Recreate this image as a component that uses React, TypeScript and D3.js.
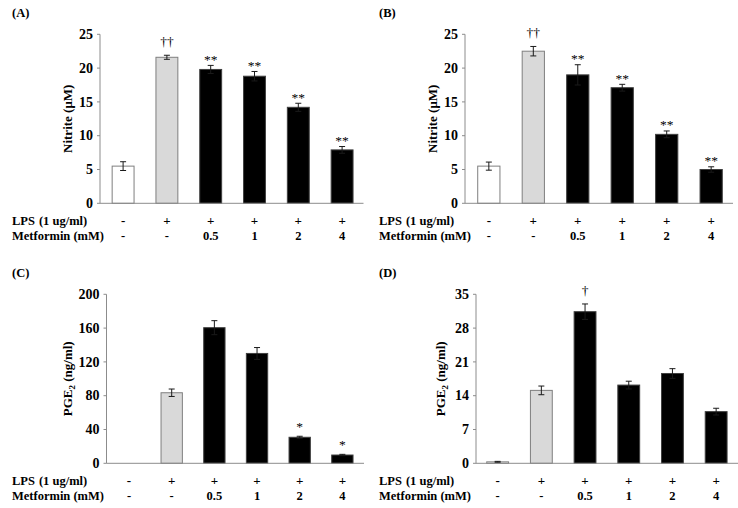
import React from "react";
import * as d3 from "d3";

// ---- data ----
const lpsRow = ["-", "+", "+", "+", "+", "+"];
const metforminRow = ["-", "-", "0.5", "1", "2", "4"];

const nitriteA = [5.5, 21.6, 19.8, 18.8, 14.2, 7.9];
const nitriteAErr = [0.65, 0.3, 0.6, 0.7, 0.6, 0.5];
const nitriteASig = ["", "††", "**", "**", "**", "**"];

const nitriteB = [5.5, 22.5, 19.0, 17.1, 10.2, 5.0];
const nitriteBErr = [0.6, 0.7, 1.5, 0.5, 0.5, 0.4];
const nitriteBSig = ["", "††", "**", "**", "**", "**"];

const pge2C = [0, 83.5, 160.5, 130, 30.8, 9.8];
const pge2CErr = [0, 4.4, 8.3, 7, 1.2, 0.8];
const pge2CSig = ["", "", "", "", "*", "*"];

const pge2D = [0.3, 15.1, 31.4, 16.2, 18.6, 10.7];
const pge2DErr = [0.1, 0.9, 1.6, 0.8, 1.0, 0.7];
const pge2DSig = ["", "", "†", "", "", ""];

const ticksNitrite = [0, 5, 10, 15, 20, 25];
const ticksC = [0, 40, 80, 120, 160, 200];
const ticksD = [0, 7, 14, 21, 28, 35];

const groups = ["g1", "g2", "g3", "g4", "g5", "g6"];
const fills = ["#ffffff", "#d9d9d9", "#000000", "#000000", "#000000", "#000000"];

const FONT = "'Liberation Serif', 'Times New Roman', serif";
const AXIS = "#8c8c8c";

type PanelProps = {
  label: string;
  values: number[];
  errs: number[];
  sig: string[];
  ticks: number[];
  yLabel: React.ReactNode;
  panelX: number;
  axisX: number;
  bandStart: number;
  bandEnd: number;
  axisEnd: number;
  y0: number;
  yTop: number;
  yLabelX: number;
};

function Panel(p: PanelProps) {
  const max = p.ticks[p.ticks.length - 1];
  const y = d3.scaleLinear().domain([0, max]).range([p.y0, p.yTop]);
  const x = d3
    .scaleBand<string>()
    .domain(groups)
    .range([p.bandStart, p.bandEnd])
    .paddingInner(0.5)
    .paddingOuter(0.25);
  const bw = x.bandwidth();
  const cap = 3;
  return (
    <g fontFamily={FONT} fontWeight="bold" fill="#000">
      <text x={p.panelX} y={p.yTop - 17} fontSize={12.5}>
        {p.label}
      </text>
      <text
        transform={`translate(${p.yLabelX},${(p.y0 + p.yTop) / 2}) rotate(-90)`}
        textAnchor="middle"
        fontSize={13}
      >
        {p.yLabel}
      </text>
      {p.values.map((v, i) => {
        const gx = x(groups[i])!;
        const h = p.y0 - y(v);
        if (v <= 0) return null;
        return (
          <rect
            key={"b" + i}
            x={gx}
            y={y(v)}
            width={bw}
            height={h}
            fill={fills[i]}
            stroke={i < 2 ? "#7f7f7f" : "#404040"}
            strokeWidth={1}
          />
        );
      })}
      {p.values.map((v, i) => {
        const e = p.errs[i];
        if (!e) return null;
        const cx = x(groups[i])! + bw / 2;
        const hi = y(v + e);
        const lo = y(Math.max(0, v - e));
        return (
          <g key={"e" + i} stroke="#1a1a1a" strokeWidth={1}>
            <line x1={cx} x2={cx} y1={hi} y2={lo} />
            <line x1={cx - cap} x2={cx + cap} y1={hi} y2={hi} />
            <line x1={cx - cap} x2={cx + cap} y1={lo} y2={lo} />
          </g>
        );
      })}
      {p.sig.map((s, i) => {
        if (!s) return null;
        const cx = x(groups[i])! + bw / 2;
        const top = y(p.values[i] + p.errs[i]);
        const off = s.startsWith("†") ? 9 : s === "*" ? 5 : 1.5;
        return (
          <text
            key={"s" + i}
            x={cx}
            y={top - off}
            textAnchor="middle"
            fontSize={13.5}
            fontWeight="normal"
            fill="#000"
          >
            {s}
          </text>
        );
      })}
      <line x1={p.axisX} x2={p.axisX} y1={p.yTop} y2={p.y0} stroke={AXIS} strokeWidth={1} />
      <line x1={p.axisX} x2={p.axisEnd} y1={p.y0} y2={p.y0} stroke={AXIS} strokeWidth={1} />
      {p.ticks.map((t) => (
        <g key={"t" + t}>
          <line x1={p.axisX - 3} x2={p.axisX} y1={y(t)} y2={y(t)} stroke={AXIS} strokeWidth={1} />
          <text x={p.axisX - 7} y={y(t)} dy="0.34em" textAnchor="end" fontSize={14}>
            {t}
          </text>
        </g>
      ))}
      <text x={p.panelX} y={p.y0 + 22} fontSize={12.5}>
        LPS<tspan dx={4}>(1 ug/ml)</tspan>
      </text>
      <text x={p.panelX} y={p.y0 + 37} fontSize={12.5}>
        Metformin (mM)
      </text>
      {lpsRow.map((s, i) => (
        <text
          key={"l" + i}
          x={x(groups[i])! + bw / 2}
          y={p.y0 + 22}
          textAnchor="middle"
          fontSize={13}
        >
          {s}
        </text>
      ))}
      {metforminRow.map((s, i) => (
        <text
          key={"m" + i}
          x={x(groups[i])! + bw / 2}
          y={p.y0 + 37}
          textAnchor="middle"
          fontSize={12.5}
        >
          {s}
        </text>
      ))}
    </g>
  );
}

const pgeLabel = (
  <>
    PGE<tspan fontSize={9} dy={3}>2</tspan>
    <tspan dy={-3}> (ng/ml)</tspan>
  </>
);

export default function App() {
  return (
    <svg
      width={738}
      height={508}
      style={{ position: "absolute", left: 0, top: 0, background: "#fff", opacity: 0.999 }}
    >
      <rect width={738} height={508} fill="#fff" />
      <Panel
        label="(A)"
        values={nitriteA}
        errs={nitriteAErr}
        sig={nitriteASig}
        ticks={ticksNitrite}
        yLabel="Nitrite (μM)"
        panelX={12}
        axisX={100}
        bandStart={101.2}
        bandEnd={364}
        axisEnd={363.5}
        y0={203.3}
        yTop={34.3}
        yLabelX={72}
      />
      <Panel
        label="(B)"
        values={nitriteB}
        errs={nitriteBErr}
        sig={nitriteBSig}
        ticks={ticksNitrite}
        yLabel="Nitrite (μM)"
        panelX={379}
        axisX={465}
        bandStart={466.6}
        bandEnd={733.4}
        axisEnd={733}
        y0={203.3}
        yTop={34.3}
        yLabelX={437}
      />
      <Panel
        label="(C)"
        values={pge2C}
        errs={pge2CErr}
        sig={pge2CSig}
        ticks={ticksC}
        yLabel={pgeLabel}
        panelX={12}
        axisX={106.5}
        bandStart={107.7}
        bandEnd={363.7}
        axisEnd={364}
        y0={463.3}
        yTop={294.3}
        yLabelX={72}
      />
      <Panel
        label="(D)"
        values={pge2D}
        errs={pge2DErr}
        sig={pge2DSig}
        ticks={ticksD}
        yLabel={pgeLabel}
        panelX={379}
        axisX={476}
        bandStart={475.8}
        bandEnd={738}
        axisEnd={738}
        y0={463.3}
        yTop={294.3}
        yLabelX={445}
      />
    </svg>
  );
}
